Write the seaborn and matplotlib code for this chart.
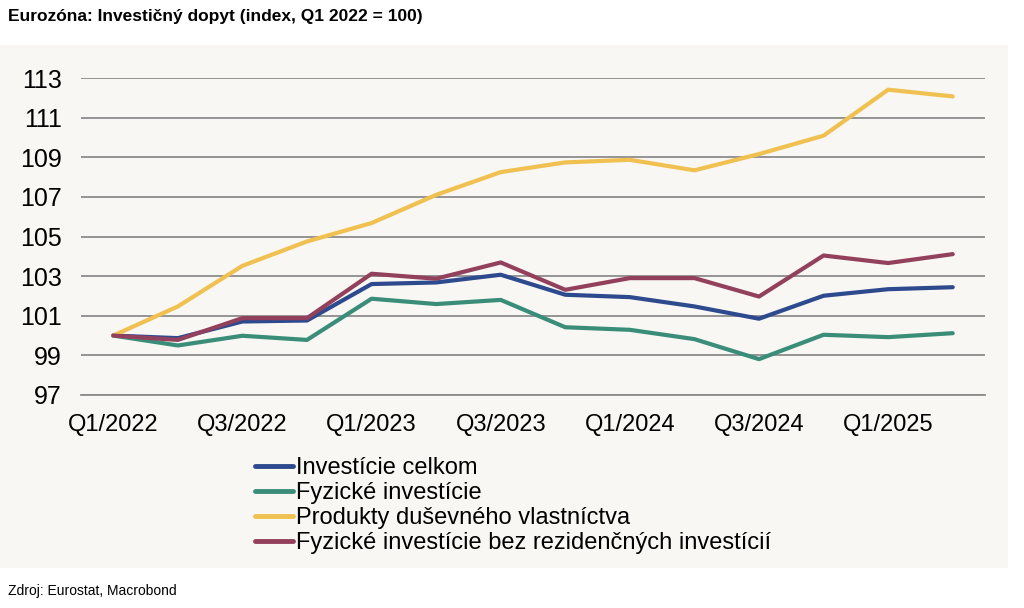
import pandas as pd
import matplotlib.pyplot as plt
import matplotlib.patches as mpatches
from matplotlib.ticker import FixedLocator
import seaborn as sns

#-----Data-----#
quarters = ["Q1/2022", "Q2/2022", "Q3/2022", "Q4/2022",
            "Q1/2023", "Q2/2023", "Q3/2023", "Q4/2023",
            "Q1/2024", "Q2/2024", "Q3/2024", "Q4/2024",
            "Q1/2025", "Q2/2025"]

celkom = [100.0, 99.87, 100.71, 100.76, 102.6, 102.68, 103.07,
          102.06, 101.94, 101.47, 100.85, 102.01, 102.34, 102.44]
fyzicke = [100.0, 99.5, 99.99, 99.78, 101.86, 101.59, 101.8,
           100.42, 100.29, 99.82, 98.81, 100.04, 99.92, 100.12]
dusevne = [100.0, 101.47, 103.52, 104.75, 105.68, 107.1, 108.25,
           108.74, 108.87, 108.34, 109.16, 110.09, 112.41, 112.07]
bez_rez = [100.0, 99.78, 100.88, 100.88, 103.12, 102.87, 103.69,
           102.31, 102.9, 102.9, 101.97, 104.04, 103.66, 104.11]

series_names = ["Investície celkom", "Fyzické investície",
                "Produkty duševného vlastníctva",
                "Fyzické investície bez rezidenčných investícií"]
series_values = [celkom, fyzicke, dusevne, bez_rez]
colors = ["#2E4A8E", "#3A8E79", "#F0C150", "#93405C"]

yticks = [97, 99, 101, 103, 105, 107, 109, 111, 113]

rows = []
for name, vals in zip(series_names, series_values):
    for i, v in enumerate(vals):
        rows.append({"x": i, "value": v, "series": name})
df = pd.DataFrame(rows)

#-----Plot-----#
sns.set_style("white")
plt.rcParams['font.family'] = ['Liberation Sans', 'DejaVu Sans']
plt.rcParams['text.color'] = 'black'
plt.rcParams['xtick.color'] = 'black'
plt.rcParams['ytick.color'] = 'black'

fig = plt.figure(figsize=(10.24, 6.08), dpi=100)
fig.patch.set_facecolor("white")

# beige panel behind the chart
panel = mpatches.Rectangle((0, 1 - 568 / 608), 1008 / 1024, (568 - 45) / 608,
                           transform=fig.transFigure, facecolor="#F8F7F3",
                           edgecolor="none", zorder=-5)
fig.patches.append(panel)

ax = fig.add_axes([81 / 1024, 1 - 395 / 608, (985 - 81) / 1024, (395 - 78) / 608])
ax.set_facecolor("none")
ax.set_zorder(2)

sns.lineplot(data=df, x="x", y="value", hue="series", palette=colors,
             hue_order=series_names, linewidth=3.0, ax=ax, legend=True,
             solid_capstyle="round", zorder=3)

ax.set_xlim(-0.5, len(quarters) - 0.5)
ax.set_ylim(97, 113)
ax.set_yticks(yticks)
ax.set_yticklabels([str(t) for t in yticks], fontsize=18)
ax.grid(axis="y", color="#8C8C8C", linewidth=1.3)
ax.set_axisbelow(True)

# ticks at quarter boundaries, labels in the middle of each quarter
ax.xaxis.set_major_locator(FixedLocator([i - 0.5 for i in range(len(quarters) + 1)]))
ax.set_xticklabels([])
ax.xaxis.set_minor_locator(FixedLocator(list(range(0, len(quarters), 2))))
ax.set_xticklabels(quarters[::2], minor=True, fontsize=17)
ax.tick_params(axis="x", which="major", length=6, width=1.3, color="#8C8C8C", direction="out")
ax.tick_params(axis="x", which="minor", length=0, pad=14)
ax.tick_params(axis="y", length=0, pad=14)

for side in ["left", "right", "top"]:
    ax.spines[side].set_visible(False)
ax.spines["bottom"].set_color("#8C8C8C")
ax.spines["bottom"].set_linewidth(1.3)

ax.set_xlabel("")
ax.set_ylabel("")

handles, labels = ax.get_legend_handles_labels()
ax.legend_.remove()
leg = fig.legend(handles, labels, loc="upper left",
                 bbox_to_anchor=(246 / 1024, 1 - 448 / 608),
                 frameon=False, fontsize=17, handlelength=1.6,
                 handletextpad=0.1, labelspacing=0.12, borderaxespad=0)
for line in leg.get_lines():
    line.set_linewidth(3.5)

fig.text(8 / 1024, 1 - 16 / 608, "Eurozóna: Investičný dopyt (index, Q1 2022 = 100)",
         fontsize=12.5, fontweight="bold", va="center", ha="left")
fig.text(8 / 1024, 1 - 591 / 608, "Zdroj: Eurostat, Macrobond",
         fontsize=10, va="center", ha="left")

fig.savefig("out.png", dpi=100, facecolor=fig.get_facecolor())
